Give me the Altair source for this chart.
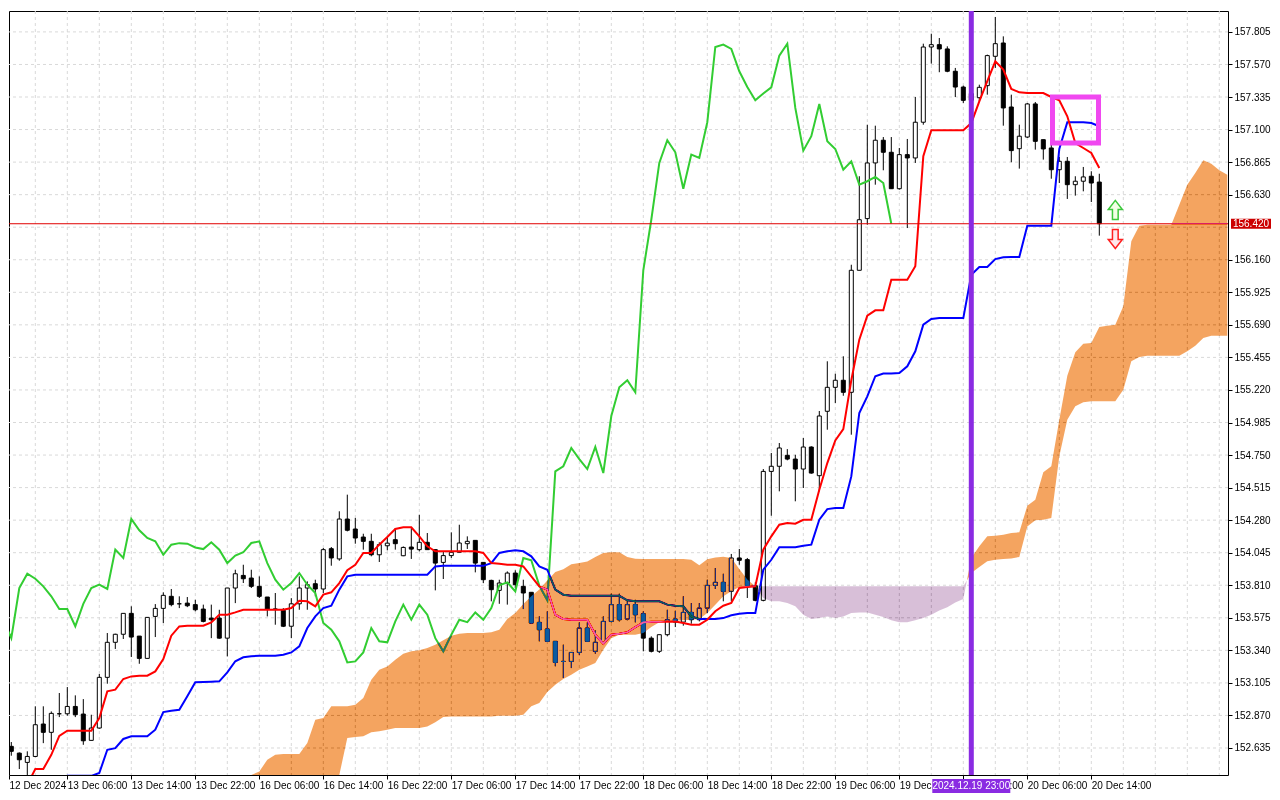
import altair as alt
import pandas as pd

# ---------------- data ----------------
OPEN = [152.520, 152.647, 152.598, 152.531, 152.574, 152.808, 152.748, 152.882, 152.882, 152.935,
        152.880, 152.690, 152.779, 153.145, 153.398, 153.456, 153.607, 153.443, 153.282, 153.585,
        153.643, 153.730, 153.676, 153.681, 153.670, 153.638, 153.573, 153.573, 153.428, 153.790,
        153.881, 153.862, 153.802, 153.725, 153.638, 153.629, 153.514, 153.676, 153.790, 153.821,
        153.783, 154.074, 154.000, 154.288, 154.216, 154.158, 154.127, 154.030, 154.095, 154.139,
        154.023, 154.086, 154.067, 154.120, 154.067, 153.975, 154.024, 154.048, 154.110, 154.134,
        153.975, 153.845, 153.773, 153.826, 153.898, 153.802, 153.759, 153.542, 153.494, 153.405,
        153.260, 153.260, 153.325, 153.501, 153.333, 153.398, 153.549, 153.670, 153.566, 153.670,
        153.604, 153.428, 153.333, 153.453, 153.566, 153.544, 153.614, 153.561, 153.645, 153.809,
        153.831, 153.766, 154.007, 153.995, 153.807, 153.701, 154.632, 154.669, 154.748, 154.721,
        154.649, 154.808, 154.601, 155.066, 155.239, 155.290, 155.203, 156.084, 156.457, 156.859,
        157.023, 156.936, 156.673, 156.919, 156.895, 157.153, 157.696, 157.713, 157.682, 157.521,
        157.407, 157.311, 157.330, 157.417, 157.629, 157.725, 157.263, 156.962, 157.046, 157.285,
        157.027, 156.967, 156.810, 156.871, 156.702, 156.727, 156.763, 156.721]
HIGH = [152.670, 152.678, 152.603, 152.611, 152.936, 152.936, 152.899, 153.032, 153.075, 153.015,
        152.988, 152.875, 153.169, 153.465, 153.460, 153.607, 153.658, 153.443, 153.578, 153.674,
        153.759, 153.783, 153.730, 153.725, 153.705, 153.670, 153.670, 153.633, 153.790, 153.922,
        153.958, 153.922, 153.874, 153.725, 153.754, 153.645, 153.717, 153.874, 153.838, 153.850,
        154.079, 154.086, 154.344, 154.464, 154.296, 154.182, 154.182, 154.120, 154.158, 154.223,
        154.090, 154.223, 154.319, 154.187, 154.067, 154.055, 154.192, 154.247, 154.163, 154.134,
        153.975, 153.850, 153.850, 153.910, 153.918, 153.850, 153.759, 153.585, 153.621, 153.405,
        153.381, 153.325, 153.542, 153.542, 153.484, 153.585, 153.749, 153.749, 153.705, 153.705,
        153.621, 153.441, 153.453, 153.633, 153.626, 153.730, 153.681, 153.681, 153.850, 153.934,
        153.893, 154.036, 154.072, 154.007, 153.831, 154.649, 154.765, 154.837, 154.793, 154.752,
        154.873, 154.813, 155.068, 155.427, 155.337, 155.463, 156.124, 156.763, 157.135, 157.128,
        157.046, 157.046, 156.967, 157.032, 157.335, 157.720, 157.792, 157.761, 157.701, 157.545,
        157.417, 157.420, 157.424, 157.641, 157.913, 157.773, 157.352, 157.135, 157.292, 157.299,
        157.027, 156.991, 156.902, 156.902, 156.763, 156.830, 156.799, 156.781]
LOW = [152.500, 152.579, 152.483, 152.434, 152.569, 152.670, 152.622, 152.858, 152.868, 152.858,
       152.658, 152.690, 152.774, 153.099, 153.350, 153.422, 153.292, 153.243, 153.282, 153.436,
       153.537, 153.658, 153.645, 153.652, 153.622, 153.542, 153.428, 153.424, 153.296, 153.681,
       153.826, 153.790, 153.718, 153.585, 153.525, 153.508, 153.428, 153.633, 153.633, 153.730,
       153.754, 153.951, 153.987, 154.199, 154.110, 154.067, 154.019, 153.978, 154.062, 154.067,
       154.020, 154.000, 154.055, 154.067, 153.773, 153.855, 154.007, 154.048, 154.072, 153.903,
       153.826, 153.694, 153.676, 153.670, 153.790, 153.638, 153.532, 153.405, 153.405, 153.225,
       153.140, 153.212, 153.308, 153.405, 153.316, 153.398, 153.542, 153.549, 153.557, 153.542,
       153.333, 153.325, 153.321, 153.441, 153.508, 153.518, 153.532, 153.549, 153.610, 153.783,
       153.694, 153.694, 153.958, 153.718, 153.694, 153.694, 154.312, 154.488, 154.712, 154.416,
       154.512, 154.615, 154.488, 154.933, 155.126, 155.178, 154.897, 156.084, 156.413, 156.702,
       156.806, 156.673, 156.666, 156.389, 156.859, 157.135, 157.576, 157.514, 157.514, 157.335,
       157.292, 157.250, 157.304, 157.352, 157.545, 157.128, 156.864, 156.818, 157.039, 156.955,
       156.883, 156.745, 156.714, 156.599, 156.623, 156.654, 156.577, 156.334]
CLOSE = [152.650, 152.611, 152.550, 152.574, 152.803, 152.748, 152.885, 152.882, 152.935, 152.875,
         152.687, 152.779, 153.145, 153.398, 153.456, 153.607, 153.436, 153.282, 153.578, 153.643,
         153.737, 153.670, 153.676, 153.662, 153.633, 153.549, 153.561, 153.428, 153.790, 153.893,
         153.857, 153.802, 153.730, 153.638, 153.638, 153.514, 153.676, 153.790, 153.814, 153.783,
         154.067, 154.007, 154.288, 154.207, 154.151, 154.127, 154.030, 154.103, 154.114, 154.110,
         154.083, 154.071, 154.120, 154.067, 153.970, 154.024, 154.048, 154.115, 154.127, 153.970,
         153.850, 153.778, 153.826, 153.898, 153.814, 153.754, 153.537, 153.489, 153.405, 153.253,
         153.260, 153.325, 153.501, 153.405, 153.398, 153.549, 153.670, 153.561, 153.670, 153.597,
         153.428, 153.333, 153.453, 153.561, 153.544, 153.614, 153.561, 153.645, 153.809, 153.831,
         153.766, 154.007, 153.990, 153.807, 153.701, 154.632, 154.669, 154.801, 154.721, 154.649,
         154.808, 154.620, 155.032, 155.239, 155.290, 155.203, 156.084, 156.449, 156.859, 157.023,
         156.936, 156.673, 156.919, 156.895, 157.153, 157.696, 157.713, 157.682, 157.521, 157.407,
         157.311, 157.360, 157.405, 157.634, 157.720, 157.256, 156.948, 157.052, 157.285, 157.015,
         156.960, 156.810, 156.871, 156.702, 156.727, 156.758, 156.714, 156.420]

TENKAN = [152.33, 152.33, 152.33, 152.37, 152.483, 152.483, 152.586, 152.723, 152.760, 152.760,
          152.760, 152.760, 152.851, 153.044, 153.056, 153.133, 153.152, 153.157, 153.157, 153.188,
          153.277, 153.446, 153.513, 153.518, 153.518, 153.518, 153.542, 153.597, 153.597, 153.614,
          153.633, 153.633, 153.633, 153.633, 153.633, 153.633, 153.645, 153.698, 153.694, 153.658,
          153.742, 153.759, 153.826, 153.918, 153.958, 154.043, 154.043, 154.103, 154.158, 154.216,
          154.228, 154.228, 154.163, 154.091, 154.055, 154.055, 154.055, 154.055, 154.055, 154.055,
          154.043, 153.970, 153.966, 153.958, 153.958, 153.946, 153.874, 153.802, 153.778, 153.597,
          153.566, 153.561, 153.561, 153.561, 153.453, 153.388, 153.453, 153.460, 153.470, 153.508,
          153.542, 153.547, 153.547, 153.547, 153.549, 153.537, 153.525, 153.525, 153.561, 153.622,
          153.662, 153.682, 153.790, 153.797, 153.802, 154.067, 154.163, 154.247, 154.259, 154.254,
          154.283, 154.283, 154.500, 154.692, 154.855, 154.937, 155.290, 155.583, 155.756, 155.795,
          155.795, 156.016, 156.016, 156.016, 156.113, 156.907, 157.095, 157.095, 157.095, 157.095,
          157.095, 157.147, 157.304, 157.449, 157.593, 157.533, 157.393, 157.369, 157.364, 157.364,
          157.364, 157.335, 157.311, 157.196, 157.003, 156.967, 156.931, 156.823]
KIJUN = [152.30, 152.30, 152.30, 152.30, 152.30, 152.30, 152.37, 152.418, 152.434, 152.434,
         152.434, 152.434, 152.454, 152.622, 152.634, 152.700, 152.719, 152.719, 152.719, 152.767,
         152.894, 152.904, 152.911, 153.008, 153.109, 153.112, 153.114, 153.116, 153.181, 153.261,
         153.290, 153.297, 153.301, 153.301, 153.301, 153.308, 153.325, 153.369, 153.501, 153.585,
         153.645, 153.662, 153.778, 153.874, 153.886, 153.886, 153.886, 153.886, 153.886, 153.886,
         153.886, 153.886, 153.886, 153.886, 153.946, 153.950, 153.950, 153.950, 153.950, 153.950,
         153.950, 153.970, 154.043, 154.055, 154.063, 154.055, 154.019, 153.946, 153.922, 153.778,
         153.742, 153.734, 153.734, 153.734, 153.734, 153.734, 153.734, 153.734, 153.701, 153.694,
         153.694, 153.694, 153.694, 153.670, 153.662, 153.658, 153.585, 153.566, 153.566, 153.566,
         153.573, 153.593, 153.604, 153.609, 153.609, 153.922, 153.994, 154.084, 154.084, 154.084,
         154.095, 154.103, 154.283, 154.360, 154.367, 154.367, 154.596, 155.054, 155.174, 155.319,
         155.338, 155.338, 155.342, 155.391, 155.499, 155.691, 155.732, 155.739, 155.739, 155.739,
         155.739, 156.052, 156.108, 156.108, 156.165, 156.178, 156.180, 156.180, 156.406, 156.406,
         156.406, 156.406, 156.960, 157.153, 157.153, 157.153, 157.147, 157.124]
CHIKOU_SHIFT = 26

# bullish cloud left of the event, bars 15..94
CLOUD1_BARS = list(range(15, 95))
CLOUD1_TOP = [152.25, 152.25, 152.41, 152.41, 152.25, 152.25, 152.25, 152.25, 152.25, 152.25,
              152.25, 152.25, 152.25, 152.25, 152.25, 152.418, 152.430, 152.466, 152.550, 152.586,
              152.591, 152.591, 152.591, 152.671, 152.839, 152.851, 152.936, 152.936, 152.936, 152.947,
              152.996, 153.128, 153.200, 153.224, 153.272, 153.316, 153.333, 153.340, 153.357, 153.381,
              153.412, 153.446, 153.460, 153.465, 153.465, 153.465, 153.470, 153.489, 153.567, 153.610,
              153.675, 153.730, 153.780, 153.845, 153.905, 153.925, 153.962, 153.970, 153.982, 154.014,
              154.043, 154.048, 154.048, 154.014, 154.002, 154.000, 154.000, 154.000, 154.000, 154.000,
              154.000, 153.994, 153.955, 153.998, 154.010, 154.016, 154.007, 153.928, 153.852, 153.802]
CLOUD1_BOT = [152.00] * 28 + [
              152.707, 152.714, 152.719, 152.748, 152.755, 152.767, 152.779,
              152.779, 152.779, 152.779, 152.791, 152.820, 152.858, 152.863, 152.863, 152.863, 152.863,
              152.863, 152.863, 152.868, 152.868, 152.868, 152.875, 152.936, 152.960, 153.040, 153.092,
              153.133, 153.164, 153.200, 153.224, 153.248, 153.344, 153.428, 153.453, 153.453, 153.453,
              153.465, 153.508, 153.542, 153.553, 153.553, 153.557, 153.561, 153.566, 153.609, 153.670,
              153.730, 153.766, 153.797, 153.802, 153.802]
# bearish (thistle) cloud, bars 94..120 and the crossing
CLOUD2_BARS = list(range(94, 121)) + [120.45]
CLOUD2_TOP = [153.802] * 27 + [153.845]
CLOUD2_BOT = [153.802, 153.718, 153.694, 153.694, 153.682, 153.658, 153.597, 153.566, 153.573, 153.585,
              153.573, 153.585, 153.609, 153.614, 153.614, 153.597, 153.580, 153.557, 153.542, 153.542,
              153.557, 153.573, 153.597, 153.628, 153.652, 153.686, 153.710, 153.845]
# bullish cloud projected ahead, crossing and bars 121..153
CLOUD3_BARS = [120.45] + list(range(121, 154))
CLOUD3_TOP = [153.845, 154.006, 154.091, 154.163, 154.168, 154.175, 154.187, 154.192, 154.384, 154.428,
              154.625, 154.669, 155.005, 155.323, 155.492, 155.554, 155.559, 155.675, 155.684, 155.691,
              155.824, 156.293, 156.406, 156.413, 156.413, 156.413, 156.413, 156.558, 156.702, 156.787,
              156.878, 156.854, 156.806, 156.774]
CLOUD3_BOT = [153.845, 153.898, 153.942, 153.983, 153.994, 154.000, 154.004, 154.014, 154.235, 154.279,
              154.283, 154.295, 154.741, 155.005, 155.102, 155.131, 155.138, 155.138, 155.138, 155.138,
              155.222, 155.427, 155.458, 155.467, 155.467, 155.467, 155.467, 155.467, 155.499, 155.540,
              155.595, 155.612, 155.612, 155.612]

PRICE_LABELS = [157.805, 157.570, 157.335, 157.100, 156.865, 156.630, 156.395, 156.160, 155.925,
                155.690, 155.455, 155.220, 154.985, 154.750, 154.515, 154.280, 154.045, 153.810,
                153.575, 153.340, 153.105, 152.870, 152.635]
HIDDEN_PRICE_LABEL = 156.395
TIME_LABELS = ["12 Dec 2024", "13 Dec 06:00", "13 Dec 14:00", "13 Dec 22:00", "16 Dec 06:00",
               "16 Dec 14:00", "16 Dec 22:00", "17 Dec 06:00", "17 Dec 14:00", "17 Dec 22:00",
               "18 Dec 06:00", "18 Dec 14:00", "18 Dec 22:00", "19 Dec 06:00", "19 Dec 14:00",
               "19 Dec 22:00", "20 Dec 06:00", "20 Dec 14:00"]
LABEL_STEP = 8
GRID_STEP = 4

CURRENT_PRICE = 156.420
CURRENT_TEXT = "156.420"
EVENT_BAR = 121
EVENT_TEXT = "2024.12.19 23:00"
BOX = dict(x1=131.15, x2=136.9, y1=157.003, y2=157.335)
ARROW_BAR = 139
ARROW_UP_PRICE = 156.52
ARROW_DOWN_PRICE = 156.31

# ---------------- layout ----------------
W, H = 1219, 764
X_DOMAIN = [0.7125, 153.0875]
Y_DOMAIN = [152.440, 157.956]
FONT = "Liberation Sans"

xs = alt.Scale(domain=X_DOMAIN, nice=False, zero=False)
ys = alt.Scale(domain=Y_DOMAIN, nice=False, zero=False)

label_expr = "[" + ",".join("'%s'" % s for s in TIME_LABELS) + "][round(datum.value/%d)]" % LABEL_STEP
x_values = [X_DOMAIN[0]] + [LABEL_STEP * k for k in range(1, len(TIME_LABELS))]
X_AXIS = alt.Axis(values=x_values, labelExpr=label_expr, title=None, grid=False, domain=False,
                  ticks=True, tickSize=4, tickColor="black", labelAlign="left", labelBaseline="top",
                  labelPadding=1, labelFont=FONT, labelFontSize=10, labelColor="black",
                  labelOverlap=False, labelFlush=False, zindex=0)
Y_AXIS = alt.Axis(orient="right", values=[v for v in PRICE_LABELS if v != HIDDEN_PRICE_LABEL],
                  format=".3f", title=None, grid=False, domain=False, ticks=True, tickSize=4,
                  tickColor="black", labelPadding=2, labelFont=FONT, labelFontSize=10,
                  labelColor="black", labelOverlap=False, labelFlush=False, zindex=0)


def X(field):
    return alt.X(field, type="quantitative", scale=xs, axis=X_AXIS)


def Y(field):
    return alt.Y(field, type="quantitative", scale=ys, axis=Y_AXIS)


bars = list(range(len(CLOSE)))
candles = pd.DataFrame(dict(bar=bars, open=OPEN, high=HIGH, low=LOW, close=CLOSE))
lines = pd.DataFrame(dict(bar=bars, tenkan=TENKAN, kijun=KIJUN))
chikou = pd.DataFrame(dict(bar=bars[:-CHIKOU_SHIFT], value=CLOSE[CHIKOU_SHIFT:]))
vgrid = pd.DataFrame(dict(bar=list(range(GRID_STEP, int(X_DOMAIN[1]) + 1, GRID_STEP))))
hgrid = pd.DataFrame(dict(price=PRICE_LABELS))

grid_style = dict(color="#d9d9d9", strokeWidth=1, strokeDash=[3, 3], clip=True)
vgrid_l = alt.Chart(vgrid).mark_rule(**grid_style).encode(x=X("bar"))
hgrid_l = alt.Chart(hgrid).mark_rule(**grid_style).encode(y=Y("price"))

wicks = alt.Chart(candles).mark_rule(color="black", strokeWidth=1, clip=True).encode(
    x=X("bar"), y=Y("low"), y2="high")
bodies = alt.Chart(candles).transform_calculate(
    xl="datum.bar - 0.25", xr="datum.bar + 0.25"
).mark_rect(stroke="black", strokeWidth=1, clip=True).encode(
    x=X("xl"), x2="xr", y=Y("open"), y2="close",
    fill=alt.condition("datum.close >= datum.open", alt.value("white"), alt.value("black")))

chikou_l = alt.Chart(chikou).mark_line(color="#32CD32", strokeWidth=2, clip=True).encode(
    x=X("bar"), y=Y("value"))
kijun_l = alt.Chart(lines).mark_line(color="#0000FF", strokeWidth=2, clip=True).encode(
    x=X("bar"), y=Y("kijun"))
tenkan_l = alt.Chart(lines).mark_line(color="#FF0000", strokeWidth=2, clip=True).encode(
    x=X("bar"), y=Y("tenkan"))

price_df = pd.DataFrame(dict(price=[CURRENT_PRICE], label=[CURRENT_TEXT]))
price_line = alt.Chart(price_df).mark_rule(color="#E00000", strokeWidth=1, clip=True).encode(
    y=Y("price"))

clamp_top = "clamp(datum.top, %f, %f)" % (Y_DOMAIN[0], Y_DOMAIN[1])
clamp_bot = "clamp(datum.bot, %f, %f)" % (Y_DOMAIN[0], Y_DOMAIN[1])


def cloud(bars_, top, bot, diff_color):
    df = pd.DataFrame(dict(bar=bars_, top=top, bot=bot))
    # "difference" blending reproduces the XOR look of the terminal's cloud;
    # no clip-path here (it would isolate the blend), values are kept inside the view instead
    return alt.Chart(df).transform_calculate(t=clamp_top, b=clamp_bot).mark_area(
        color=diff_color, opacity=1, blend="difference", interpolate="linear").encode(
        x=X("bar"), y=Y("t"), y2="b")


cloud1 = cloud(CLOUD1_BARS, CLOUD1_TOP, CLOUD1_BOT, "#0B5B9F")   # shows as sandy brown
cloud2 = cloud(CLOUD2_BARS, CLOUD2_TOP, CLOUD2_BOT, "#274027")   # shows as thistle
cloud3 = cloud(CLOUD3_BARS, CLOUD3_TOP, CLOUD3_BOT, "#0B5B9F")

event_df = pd.DataFrame(dict(bar=[EVENT_BAR], label=[EVENT_TEXT]))
event_line = alt.Chart(event_df).mark_rule(color="#8A2BE2", strokeWidth=5).encode(x=X("bar"))

box_df = pd.DataFrame([BOX])
box = alt.Chart(box_df).mark_rect(fillOpacity=0, stroke="#F048F0", strokeWidth=5).encode(
    x=X("x1"), x2="x2", y=Y("y1"), y2="y2")

UP_PATH = "M0,-1L0.74,-0.05L0.3,-0.05L0.3,1L-0.3,1L-0.3,-0.05L-0.74,-0.05Z"
DOWN_PATH = "M0,1L0.74,0.05L0.3,0.05L0.3,-1L-0.3,-1L-0.3,0.05L-0.74,0.05Z"
arrow_df = pd.DataFrame(dict(bar=[ARROW_BAR, ARROW_BAR], price=[ARROW_UP_PRICE, ARROW_DOWN_PRICE],
                             kind=["up", "down"]))
arrow_up = alt.Chart(arrow_df).transform_filter("datum.kind == 'up'").mark_point(
    shape=UP_PATH, size=361, filled=True, fill="#F2FFE6", stroke="#3CC83C", strokeWidth=1.5,
    opacity=1).encode(x=X("bar"), y=Y("price"))
arrow_down = alt.Chart(arrow_df).transform_filter("datum.kind == 'down'").mark_point(
    shape=DOWN_PATH, size=361, filled=True, fill="#FFE8EC", stroke="#FF2020", strokeWidth=1.5,
    opacity=1).encode(x=X("bar"), y=Y("price"))

price_badge = alt.Chart(price_df).mark_point(
    shape="M-1,-0.25L1,-0.25L1,0.25L-1,0.25Z", size=1600, filled=True, color="#CC0000",
    opacity=1, strokeWidth=0).encode(x=alt.value(W + 23), y=Y("price"))
price_text = alt.Chart(price_df).mark_text(
    color="white", font=FONT, fontSize=10, align="center", baseline="middle").encode(
    x=alt.value(W + 23), y=Y("price"), text="label:N")

time_badge = alt.Chart(event_df).mark_point(
    shape="M-1,-0.18L1,-0.18L1,0.18L-1,0.18Z", size=6084, filled=True, color="#8A2BE2",
    opacity=1, strokeWidth=0).encode(x=X("bar"), y=alt.value(H + 11))
time_text = alt.Chart(event_df).mark_text(
    color="white", font=FONT, fontSize=10, align="center", baseline="middle").encode(
    x=X("bar"), y=alt.value(H + 11), text="label:N")

chart = alt.layer(
    vgrid_l, hgrid_l, wicks, bodies, chikou_l, kijun_l, tenkan_l, price_line,
    cloud1, cloud2, cloud3, event_line, box, arrow_up, arrow_down,
    price_badge, price_text, time_badge, time_text
).properties(
    width=W, height=H, padding=0, background="white"
).configure_view(stroke="black", strokeWidth=1)

chart.save("out.html", embed_options={"renderer": "svg", "actions": False})
